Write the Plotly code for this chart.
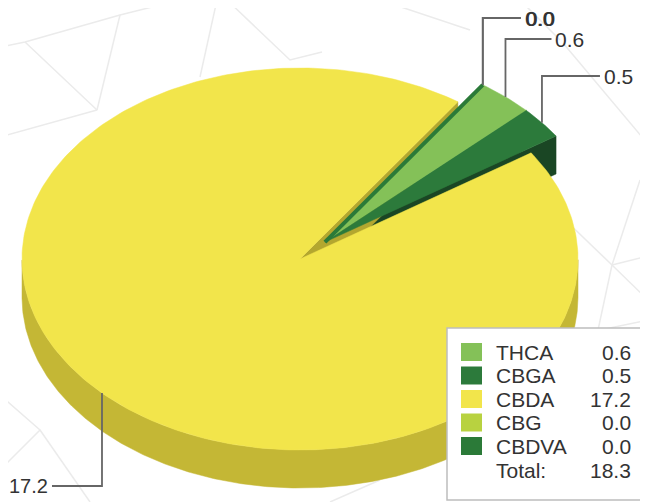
import math
import plotly.graph_objects as go

# ---------------- data ----------------
categories = ["THCA", "CBGA", "CBDA", "CBG", "CBDVA"]
values = [0.6, 0.5, 17.2, 0.0, 0.0]
value_labels = ["0.6", "0.5", "17.2", "0.0", "0.0"]
total_label = "18.3"

# ---------------- style / layout constants ----------------
W, H = 648, 502
PAGE_MARGIN = 8                 # default body margin of the html page
CX, CY = 300.0, 259.0          # centre of the top face (page px)
RX = 278.0                      # horizontal radius (px)
K = 191.0 / 278.0               # vertical squash of the tilted disc
THICK = 38.0                    # side wall height (px)
START = 55.4                    # angle (deg, ccw from +x) where the first slice starts
PULL = [35.0, 35.0, 0.0, 0.0, 0.0]

top_colors = ["#84C158", "#2C7A3B", "#F2E54B", "#B8D240", "#2B7A38"]
side_colors = ["#5C9A3A", "#1C4E27", "#C4B735", "#8FA830", "#1C4E27"]
cut_colors = ["#2A6E35", "#1A4624", "#B3A72F", "#8FA830", "#1A4624"]
TXT = "#333333"
LEADER = "#666666"
FONT = "Liberation Sans, Arial, sans-serif"

# label placement (px): label y, horizontal leader length, font size
label_pos = {
    0: dict(y=39, dx=46, size=21),
    1: dict(y=76, dx=58, size=21),
    2: dict(y=486, dx=-50, size=20),
    3: dict(y=18, dx=38, size=21),
    4: dict(y=18, dx=38, size=21),
}

total = sum(values)


def pt(theta, r, off=(0.0, 0.0), drop=0.0):
    t = math.radians(theta)
    ux = off[0] + r * math.cos(t)
    uy = off[1] + r * math.sin(t)
    return CX + ux, CY - uy * K + drop


def arc(a_from, a_to, r, off, drop=0.0, n=None):
    if n is None:
        n = max(2, int(abs(a_to - a_from) / 1.0) + 2)
    return [pt(a_from + (a_to - a_from) * i / (n - 1), r, off, drop) for i in range(n)]


# slice geometry
slices = []
a = START
for i, v in enumerate(values):
    span = v / total * 360.0
    slices.append(dict(i=i, start=a, end=a - span, mid=a - span / 2.0, span=span))
    a -= span

# pulled slices are exploded together along the bisector of their group
pulled = [s for s in slices if PULL[s["i"]] > 0]
g_mid = (pulled[0]["start"] + pulled[-1]["end"]) / 2.0 if pulled else 0.0
for s in slices:
    p = PULL[s["i"]]
    s["off"] = (p * math.cos(math.radians(g_mid)), p * math.sin(math.radians(g_mid)))

fig = go.Figure()


def poly(pts, color):
    xs = [p[0] for p in pts] + [pts[0][0]]
    ys = [p[1] for p in pts] + [pts[0][1]]
    fig.add_trace(go.Scatter(
        x=xs, y=ys, mode="lines", fill="toself", fillcolor=color,
        line=dict(color=color, width=0.5),
        hoverinfo="skip", showlegend=False))


def line(pts, color, width):
    fig.add_trace(go.Scatter(
        x=[p[0] for p in pts], y=[p[1] for p in pts], mode="lines",
        line=dict(color=color, width=width), hoverinfo="skip", showlegend=False))


# faint background lattice (decoration)
bg_lines = [
    [(0, 47), (25, 42), (120, 15), (180, 0)],
    [(25, 42), (97, 110), (0, 137)],
    [(120, 15), (97, 110)],
    [(217, 0), (200, 77)],
    [(227, 0), (290, 60), (322, 52)],
    [(563, 43), (647, 143)],
    [(612, 265), (560, 215)], [(612, 265), (640, 180)], [(612, 265), (648, 256)],
    [(612, 265), (598, 330)], [(612, 265), (648, 300)],
    [(380, 0), (470, 30)], [(520, 0), (560, 40)],
    [(0, 395), (40, 430), (0, 470)], [(40, 430), (90, 502)],
    [(330, 502), (380, 480)], [(600, 330), (648, 320)],
]
for bl in bg_lines:
    line(bl, "#EBEBEB", 1.5)

# 1) end cut faces of pulled slices (partly hidden by the yellow slice)
for s in slices:
    if s["span"] > 0 and PULL[s["i"]] > 0 and math.cos(math.radians(s["end"])) > 0:
        c0 = pt(0, 0, s["off"])
        r0 = pt(s["end"], RX, s["off"])
        poly([c0, r0, (r0[0], r0[1] + THICK), (c0[0], c0[1] + THICK)], cut_colors[s["i"]])

# 2) unpulled slices: walls, cut faces, tops
for s in slices:
    if s["span"] <= 0 or PULL[s["i"]] > 0:
        continue
    i = s["i"]
    lo, hi = s["end"], s["start"]
    n = int(hi - lo) * 2 + 2
    seg = [lo + (hi - lo) * k / (n - 1) for k in range(n)]
    seg = [ang for ang in seg if math.sin(math.radians(ang)) <= 0.0]
    if seg:
        top = arc(seg[0], seg[-1], RX, s["off"], 0, len(seg))
        bot = arc(seg[-1], seg[0], RX, s["off"], THICK, len(seg))
        poly(top + bot, side_colors[i])
    if math.cos(math.radians(s["end"])) > 0:
        c0 = pt(0, 0, s["off"])
        r0 = pt(s["end"], RX, s["off"])
        poly([c0, r0, (r0[0], r0[1] + THICK), (c0[0], c0[1] + THICK)], cut_colors[i])
    poly([pt(0, 0, s["off"])] + arc(s["start"], s["end"], RX, s["off"]), top_colors[i])

# 3) pulled slices tops
for s in pulled:
    poly([pt(0, 0, s["off"])] + arc(s["start"], s["end"], RX, s["off"]), top_colors[s["i"]])

# thin dark edge left by the zero-value slices along the first pulled slice
first = slices[0]
line([pt(0, 0, first["off"]), pt(first["start"], RX, first["off"])], top_colors[4], 4)

# 4) leader lines and value labels
annotations = []
for s in slices:
    i = s["i"]
    if s["span"] > 0:
        ax, ay = pt(s["mid"], RX, s["off"])
    else:
        ax, ay = pt(first["start"], RX, first["off"])
    lp = label_pos[i]
    ex = ax + lp["dx"]
    line([(ax, ay), (ax, lp["y"]), (ex, lp["y"])], LEADER, 1.8)
    nudge = 0.8 if i == 4 else 0.0
    annotations.append(dict(
        x=ex + (2 if lp["dx"] > 0 else -2) + nudge, y=lp["y"], xref="x", yref="y",
        text=value_labels[i], showarrow=False,
        xanchor="left" if lp["dx"] > 0 else "right", yanchor="middle",
        font=dict(family=FONT, size=lp["size"], color=TXT)))

# 5) legend box
LX0, LY0, LX1, LY1 = 447, 328, 643, 500
shapes = [dict(type="rect", xref="x", yref="y", x0=LX0, y0=LY0, x1=LX1, y1=LY1,
               fillcolor="white", line=dict(color="#BDBDBD", width=1.5), layer="above")]
row_y0, row_dy = 352, 23.5
for i, name in enumerate(categories):
    yy = row_y0 + i * row_dy
    shapes.append(dict(type="rect", xref="x", yref="y", x0=461, x1=482,
                       y0=yy - 9, y1=yy + 9, fillcolor=top_colors[i],
                       line=dict(width=0), layer="above"))
    annotations.append(dict(x=494, y=yy, xref="x", yref="y", text=name, showarrow=False,
                            xanchor="left", yanchor="middle",
                            font=dict(family=FONT, size=21, color=TXT)))
    annotations.append(dict(x=633, y=yy, xref="x", yref="y", text=value_labels[i],
                            showarrow=False, xanchor="right", yanchor="middle",
                            font=dict(family=FONT, size=21, color=TXT)))
yy = row_y0 + len(categories) * row_dy + 1
annotations.append(dict(x=494, y=yy, xref="x", yref="y", text="Total:", showarrow=False,
                        xanchor="left", yanchor="middle",
                        font=dict(family=FONT, size=21, color=TXT)))
annotations.append(dict(x=633, y=yy, xref="x", yref="y", text=total_label, showarrow=False,
                        xanchor="right", yanchor="middle",
                        font=dict(family=FONT, size=21, color=TXT)))

# axes map straight to page pixels (figure sits 8 px in from the page corner)
fig.update_layout(
    width=W - PAGE_MARGIN, height=H - PAGE_MARGIN,
    margin=dict(l=0, r=0, t=0, b=0),
    paper_bgcolor="white", plot_bgcolor="white",
    xaxis=dict(range=[PAGE_MARGIN, W], visible=False, fixedrange=True),
    yaxis=dict(range=[H, PAGE_MARGIN], visible=False, fixedrange=True),
    shapes=shapes, annotations=annotations, showlegend=False,
)
fig.write_html("out.html")
